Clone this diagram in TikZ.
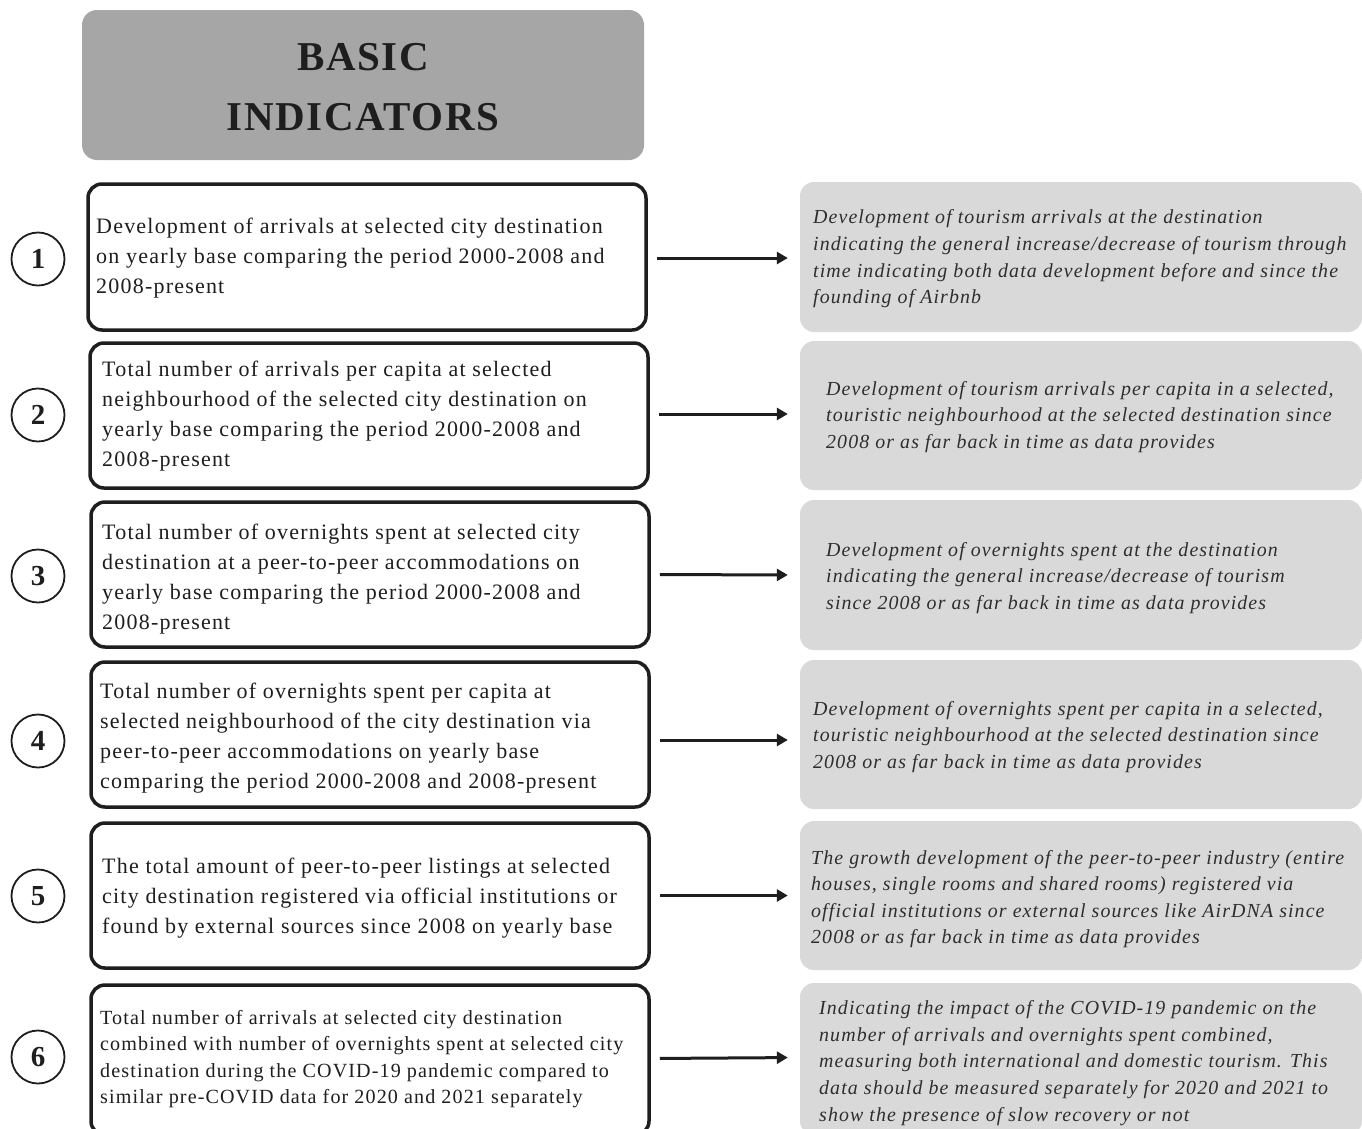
\documentclass[tikz,border=0pt]{standalone}
\usepackage{fontspec}
\setmainfont{Liberation Serif}[LetterSpace=5.5]
\newfontfamily\headfont{Liberation Serif}[LetterSpace=4]
\usetikzlibrary{arrows.meta}

\definecolor{headgray}{HTML}{A6A6A6}
\definecolor{notegray}{HTML}{D9D9D9}
\definecolor{inkdark}{HTML}{1E1E1E}
\definecolor{inknote}{HTML}{2E2E2E}

\tikzset{
  headbox/.style={fill=headgray, rounded corners=15pt, minimum width=562pt,
    minimum height=150pt, inner sep=0pt, align=center, text=inkdark,
    font=\headfont\bfseries\fontsize{41}{60}\selectfont},
  indbox/.style={draw=inkdark, line width=3.5pt, rounded corners=14pt,
    minimum width=558pt, inner sep=0pt},
  notebox/.style={fill=notegray, rounded corners=14pt, minimum width=562pt,
    inner sep=0pt},
  numdisc/.style={circle, draw=inkdark, line width=1.8pt, minimum size=53pt,
    inner sep=0pt, text=inkdark, font=\headfont\bfseries\fontsize{29}{29}\selectfont},
  indtext/.style={anchor=west, align=left, inner sep=0pt, text=inkdark,
    font=\fontsize{22}{30}\selectfont},
  smalltext/.style={indtext, font=\fontsize{20.1}{26.3}\selectfont},
  notetext/.style={anchor=west, align=left, inner sep=0pt, text=inknote,
    font=\itshape\fontsize{19.9}{26.6}\selectfont},
  link/.style={-{Triangle[length=11pt,width=12pt]}, line width=3pt,
    draw=inkdark, shorten <=9pt, shorten >=12pt}
}

\begin{document}
\begin{tikzpicture}[x=1pt, y=-1pt]
\clip (0,0) rectangle (1362,1128);
\fill[white] (0,0) rectangle (1362,1128);

% title block
\node[headbox] (head) at (363,85) {};
\node[align=center, inner sep=0pt, text=inkdark,
  font=\headfont\bfseries\fontsize{41}{60}\selectfont] (headtext) at (363,87) {BASIC\\INDICATORS};

% indicator boxes (left column)
\node[indbox, minimum height=146pt] (l1) at (367,257) {};
\node[indbox, minimum height=145pt] (l2) at (369,415.5) {};
\node[indbox, minimum height=145pt] (l3) at (370,574.5) {};
\node[indbox, minimum height=145pt] (l4) at (370,734.5) {};
\node[indbox, minimum height=145pt] (l5) at (370,895.5) {};
\node[indbox, minimum height=150pt] (l6) at (370,1060) {};

% explanation boxes (right column)
\node[notebox, minimum height=150pt] (r1) at (1081,257) {};
\node[notebox, minimum height=149pt] (r2) at (1081,415.5) {};
\node[notebox, minimum height=150pt] (r3) at (1081,575) {};
\node[notebox, minimum height=149pt] (r4) at (1081,734.5) {};
\node[notebox, minimum height=149pt] (r5) at (1081,895.5) {};
\node[notebox, minimum height=152pt] (r6) at (1081,1059) {};

% numbers
\node[numdisc] (n1) at (38,259) {1};
\node[numdisc] (n2) at (38,415) {2};
\node[numdisc] (n3) at (38,576) {3};
\node[numdisc] (n4) at (38,741) {4};
\node[numdisc] (n5) at (38,896) {5};
\node[numdisc] (n6) at (38,1057) {6};

% indicator texts
\node[indtext] (t1) at (96,258) {Development of arrivals at selected city destination\\on yearly base comparing the period 2000-2008 and\\2008-present};
\node[indtext] (t2) at (102,416) {Total number of arrivals per capita at selected\\neighbourhood of the selected city destination on\\yearly base comparing the period 2000-2008 and\\2008-present};
\node[indtext] (t3) at (102,579) {Total number of overnights spent at selected city\\destination at a peer-to-peer accommodations on\\yearly base comparing the period 2000-2008 and\\2008-present};
\node[indtext] (t4) at (100,738) {Total number of overnights spent per capita at\\selected neighbourhood of the city destination via\\peer-to-peer accommodations on yearly base\\comparing the period 2000-2008 and 2008-present};
\node[indtext] (t5) at (102,898) {The total amount of peer-to-peer listings at selected\\city destination registered via official institutions or\\found by external sources since 2008 on yearly base};
\node[smalltext] (t6) at (100,1059) {Total number of arrivals at selected city destination\\combined with number of overnights spent at selected city\\destination during the COVID-19 pandemic compared to\\similar pre-COVID data for 2020 and 2021 separately};

% explanation texts
\node[notetext] (u1) at (813,259) {Development of tourism arrivals at the destination\\indicating the general increase/decrease of tourism through\\time indicating both data development before and since the\\founding of Airbnb};
\node[notetext] (u2) at (826,417) {Development of tourism arrivals per capita in a selected,\\touristic neighbourhood at the selected destination since\\2008 or as far back in time as data provides};
\node[notetext] (u3) at (826,578) {Development of overnights spent at the destination\\indicating the general increase/decrease of tourism\\since 2008 or as far back in time as data provides};
\node[notetext] (u4) at (813,737) {Development of overnights spent per capita in a selected,\\touristic neighbourhood at the selected destination since\\2008 or as far back in time as data provides};
\node[notetext] (u5) at (811,899) {The growth development of the peer-to-peer industry (entire\\houses, single rooms and shared rooms) registered via\\official institutions or external sources like AirDNA since\\2008 or as far back in time as data provides};
\node[notetext] (u6) at (819,1063) {Indicating the impact of the COVID-19 pandemic on the\\number of arrivals and overnights spent combined,\\measuring both international and domestic tourism. This\\data should be measured separately for 2020 and 2021 to\\show the presence of slow recovery or not};

% connectors
\draw[link] ([yshift=-1pt]l1.east) -- ([yshift=-1pt]r1.west);
\draw[link] ([yshift=1.5pt]l2.east) -- ([yshift=1.5pt]r2.west);
\draw[link] (l3.east) -- (r3.west);
\draw[link] ([yshift=-5.5pt]l4.east) -- ([yshift=-5.5pt]r4.west);
\draw[link] (l5.east) -- (r5.west);
\draw[link] ([yshift=1.5pt]l6.east) -- ([yshift=1.5pt]r6.west);
\end{tikzpicture}
\end{document}
